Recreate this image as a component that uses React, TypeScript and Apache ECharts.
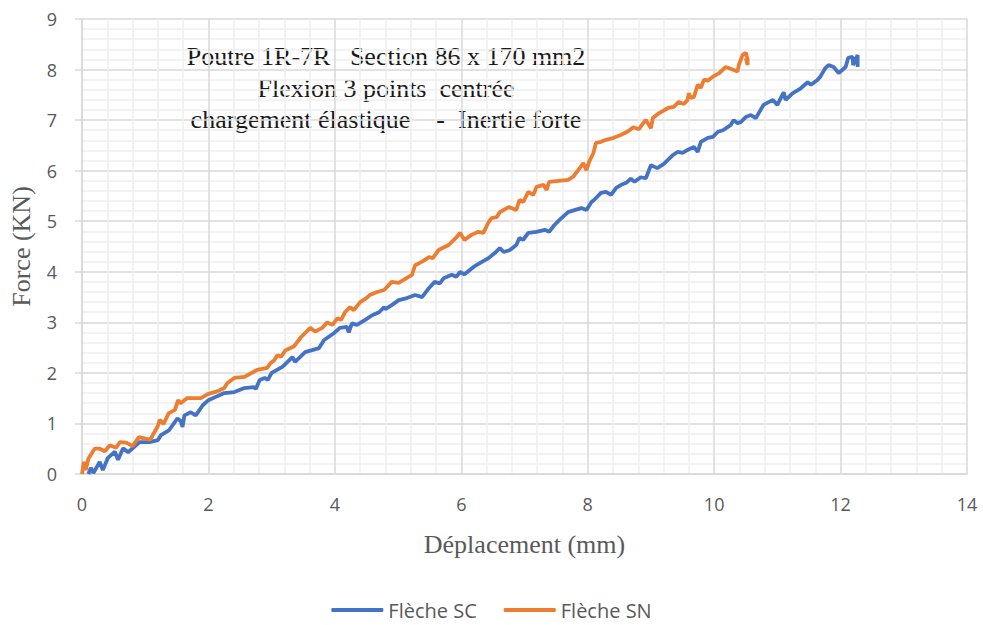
import React, { useEffect, useRef } from "react";
import * as echarts from "echarts";

const seriesNames = ["Flèche SC", "Flèche SN"];
const titleLines = [
  "Poutre 1R-7R   Section 86 x 170 mm2",
  "Flexion 3 points  centrée",
  "chargement élastique    -  Inertie forte",
];
const xAxisName = "Déplacement (mm)";
const yAxisName = "Force (KN)";

const flecheSC: number[][] = [
  [0.1, 0], [0.14, 0.12], [0.18, 0.02], [0.28, 0.24], [0.33, 0.08], [0.41, 0.32], [0.52, 0.44], [0.57, 0.28],
  [0.65, 0.51], [0.73, 0.43], [0.91, 0.63], [1.07, 0.63], [1.2, 0.67], [1.25, 0.77], [1.38, 0.87], [1.51, 1.1],
  [1.56, 1.05], [1.59, 0.93], [1.62, 1.16], [1.72, 1.22], [1.8, 1.16], [1.91, 1.36], [2.0, 1.46], [2.14, 1.54],
  [2.25, 1.6], [2.41, 1.62], [2.57, 1.7], [2.72, 1.72], [2.75, 1.68], [2.81, 1.86], [2.89, 1.9], [2.94, 1.86],
  [3.0, 2.0], [3.17, 2.12], [3.33, 2.31], [3.37, 2.22], [3.53, 2.41], [3.75, 2.49], [3.83, 2.65], [3.99, 2.79],
  [4.08, 2.89], [4.19, 2.91], [4.22, 2.8], [4.27, 2.98], [4.35, 2.95], [4.48, 3.05], [4.59, 3.14], [4.7, 3.2],
  [4.78, 3.3], [4.8, 3.26], [4.9, 3.34], [5.01, 3.44], [5.14, 3.48], [5.27, 3.54], [5.38, 3.5], [5.49, 3.68],
  [5.58, 3.8], [5.66, 3.77], [5.72, 3.87], [5.85, 3.94], [5.92, 3.9], [5.98, 4.0], [6.05, 3.95], [6.2, 4.1],
  [6.32, 4.19], [6.43, 4.27], [6.53, 4.37], [6.61, 4.47], [6.67, 4.39], [6.77, 4.43], [6.87, 4.53], [6.92, 4.67],
  [6.98, 4.63], [7.06, 4.77], [7.19, 4.79], [7.32, 4.83], [7.39, 4.79], [7.47, 4.92], [7.55, 5.02], [7.69, 5.18],
  [7.79, 5.22], [7.9, 5.26], [7.98, 5.22], [8.06, 5.38], [8.1, 5.42], [8.21, 5.56], [8.29, 5.58], [8.37, 5.52],
  [8.45, 5.66], [8.53, 5.72], [8.61, 5.76], [8.68, 5.84], [8.74, 5.78], [8.84, 5.87], [8.92, 5.85], [9.0, 6.11],
  [9.1, 6.05], [9.2, 6.13], [9.35, 6.31], [9.42, 6.37], [9.5, 6.35], [9.58, 6.41], [9.68, 6.47], [9.74, 6.37],
  [9.79, 6.57], [9.9, 6.65], [9.98, 6.67], [10.06, 6.77], [10.14, 6.8], [10.26, 6.9], [10.31, 7.0], [10.37, 6.94],
  [10.42, 6.96], [10.5, 7.06], [10.58, 7.1], [10.66, 7.04], [10.78, 7.3], [10.93, 7.4], [11.0, 7.3], [11.1, 7.55],
  [11.13, 7.4], [11.24, 7.53], [11.37, 7.63], [11.48, 7.75], [11.53, 7.7], [11.63, 7.79], [11.68, 7.86], [11.76, 8.03],
  [11.81, 8.09], [11.89, 8.05], [11.97, 7.93], [12.08, 8.05], [12.12, 8.23], [12.19, 8.25], [12.2, 8.09], [12.27, 8.29],
  [12.27, 8.05],
];

const flecheSN: number[][] = [
  [0, 0], [0.03, 0.24], [0.06, 0.08], [0.1, 0.3], [0.14, 0.38], [0.2, 0.5], [0.28, 0.5], [0.36, 0.45],
  [0.44, 0.57], [0.54, 0.52], [0.6, 0.63], [0.7, 0.62], [0.8, 0.55], [0.9, 0.73], [1.0, 0.7], [1.08, 0.68],
  [1.2, 0.95], [1.23, 1.07], [1.29, 0.99], [1.37, 1.2], [1.47, 1.27], [1.52, 1.46], [1.56, 1.4], [1.66, 1.5],
  [1.88, 1.5], [1.99, 1.58], [2.15, 1.64], [2.25, 1.7], [2.3, 1.8], [2.41, 1.9], [2.57, 1.92], [2.77, 2.06],
  [2.93, 2.1], [2.98, 2.19], [3.04, 2.25], [3.09, 2.35], [3.15, 2.32], [3.22, 2.45], [3.35, 2.52], [3.46, 2.7],
  [3.61, 2.89], [3.69, 2.82], [3.8, 2.89], [3.88, 3.0], [3.96, 2.95], [4.04, 3.08], [4.1, 3.05], [4.16, 3.2],
  [4.24, 3.3], [4.3, 3.24], [4.4, 3.4], [4.5, 3.48], [4.55, 3.54], [4.67, 3.6], [4.78, 3.64], [4.9, 3.8],
  [5.01, 3.78], [5.14, 3.88], [5.22, 3.94], [5.27, 4.13], [5.38, 4.2], [5.49, 4.29], [5.55, 4.27], [5.64, 4.43],
  [5.8, 4.53], [5.93, 4.69], [5.98, 4.77], [6.05, 4.63], [6.16, 4.73], [6.27, 4.79], [6.35, 4.77], [6.43, 4.98],
  [6.48, 5.06], [6.56, 5.08], [6.61, 5.18], [6.75, 5.28], [6.87, 5.22], [6.92, 5.42], [6.98, 5.38], [7.06, 5.58],
  [7.14, 5.52], [7.19, 5.68], [7.3, 5.72], [7.35, 5.62], [7.39, 5.78], [7.69, 5.82], [7.77, 5.88], [7.85, 6.01],
  [7.93, 6.15], [7.98, 6.01], [8.02, 6.17], [8.09, 6.35], [8.13, 6.55], [8.21, 6.57], [8.29, 6.61], [8.41, 6.65],
  [8.53, 6.71], [8.64, 6.78], [8.72, 6.86], [8.81, 6.82], [8.89, 6.96], [8.92, 7.0], [9.0, 6.84], [9.03, 7.04],
  [9.13, 7.14], [9.27, 7.24], [9.36, 7.26], [9.44, 7.36], [9.52, 7.32], [9.58, 7.4], [9.6, 7.53], [9.63, 7.44],
  [9.68, 7.46], [9.74, 7.7], [9.79, 7.64], [9.84, 7.8], [9.9, 7.78], [9.98, 7.86], [10.08, 7.93], [10.18, 8.05],
  [10.23, 8.03], [10.37, 7.96], [10.39, 8.09], [10.45, 8.29], [10.5, 8.33], [10.53, 8.2], [10.53, 8.09], [10.5, 8.23],
];

const xMin = 0, xMax = 14, xInterval = 2;
const yMin = 0, yMax = 9, yInterval = 1;

const LABEL_FONT = "'Open Sans', 'Noto Sans', sans-serif";
const SERIF = "'Liberation Serif', 'DejaVu Serif', serif";

export default function App() {
  const ref = useRef<HTMLDivElement>(null);
  useEffect(() => {
    if (!ref.current) return;
    const chart = echarts.init(ref.current, undefined, { renderer: "svg" });
    const axisCommon = {
      axisLine: { show: true, lineStyle: { color: "#d9d9d9", width: 1.5 } },
      axisLabel: { color: "#595959", fontSize: 18, fontFamily: LABEL_FONT },
      splitLine: { show: true, lineStyle: { color: "#d9d9d9", width: 1.5 } },
      minorTick: { show: false, splitNumber: 5 },
      minorSplitLine: { show: true, lineStyle: { color: "#efefef", width: 1.5 } },
    };
    chart.setOption({
      animation: false,
      backgroundColor: "#ffffff",
      grid: { left: 78, right: 16, top: 19, bottom: 151, containLabel: false },
      xAxis: {
        type: "value",
        min: xMin,
        max: xMax,
        interval: xInterval,
        ...axisCommon,
        axisTick: { show: false },
        axisLabel: { ...axisCommon.axisLabel, margin: 21 },
        name: xAxisName,
        nameLocation: "middle",
        nameGap: 57,
        nameTextStyle: { color: "#595959", fontSize: 26, fontFamily: SERIF },
      },
      yAxis: {
        type: "value",
        min: yMin,
        max: yMax,
        interval: yInterval,
        ...axisCommon,
        axisTick: { show: true, length: 7, lineStyle: { color: "#d9d9d9", width: 1.5 } },
        axisLabel: { ...axisCommon.axisLabel, margin: 25 },
        name: yAxisName,
        nameLocation: "middle",
        nameGap: 48,
        nameTextStyle: { color: "#595959", fontSize: 26, fontFamily: SERIF },
      },
      legend: {
        bottom: 0,
        left: "center",
        itemGap: 27,
        itemWidth: 52,
        itemHeight: 4,
        icon: "roundRect",
        textStyle: { color: "#595959", fontSize: 20, fontFamily: LABEL_FONT },
        data: seriesNames,
      },
      graphic: [
        {
          type: "text",
          x: 386,
          y: 41,
          style: {
            text: titleLines.join("\n"),
            align: "center",
            verticalAlign: "top",
            fill: "#1a1a1a",
            font: `26px ${SERIF}`,
            lineHeight: 31.5,
          },
        },
      ],
      series: [
        {
          name: seriesNames[0],
          type: "line",
          data: flecheSC,
          showSymbol: false,
          symbol: "none",
          lineStyle: { color: "#4472C4", width: 3.8 },
          itemStyle: { color: "#4472C4" },
        },
        {
          name: seriesNames[1],
          type: "line",
          data: flecheSN,
          showSymbol: false,
          symbol: "none",
          lineStyle: { color: "#ED7D31", width: 3.8 },
          itemStyle: { color: "#ED7D31" },
        },
      ],
    });
    return () => chart.dispose();
  }, []);
  return <div ref={ref} style={{ width: 983, height: 625, position: "absolute", left: 0, top: 0 }} />;
}
